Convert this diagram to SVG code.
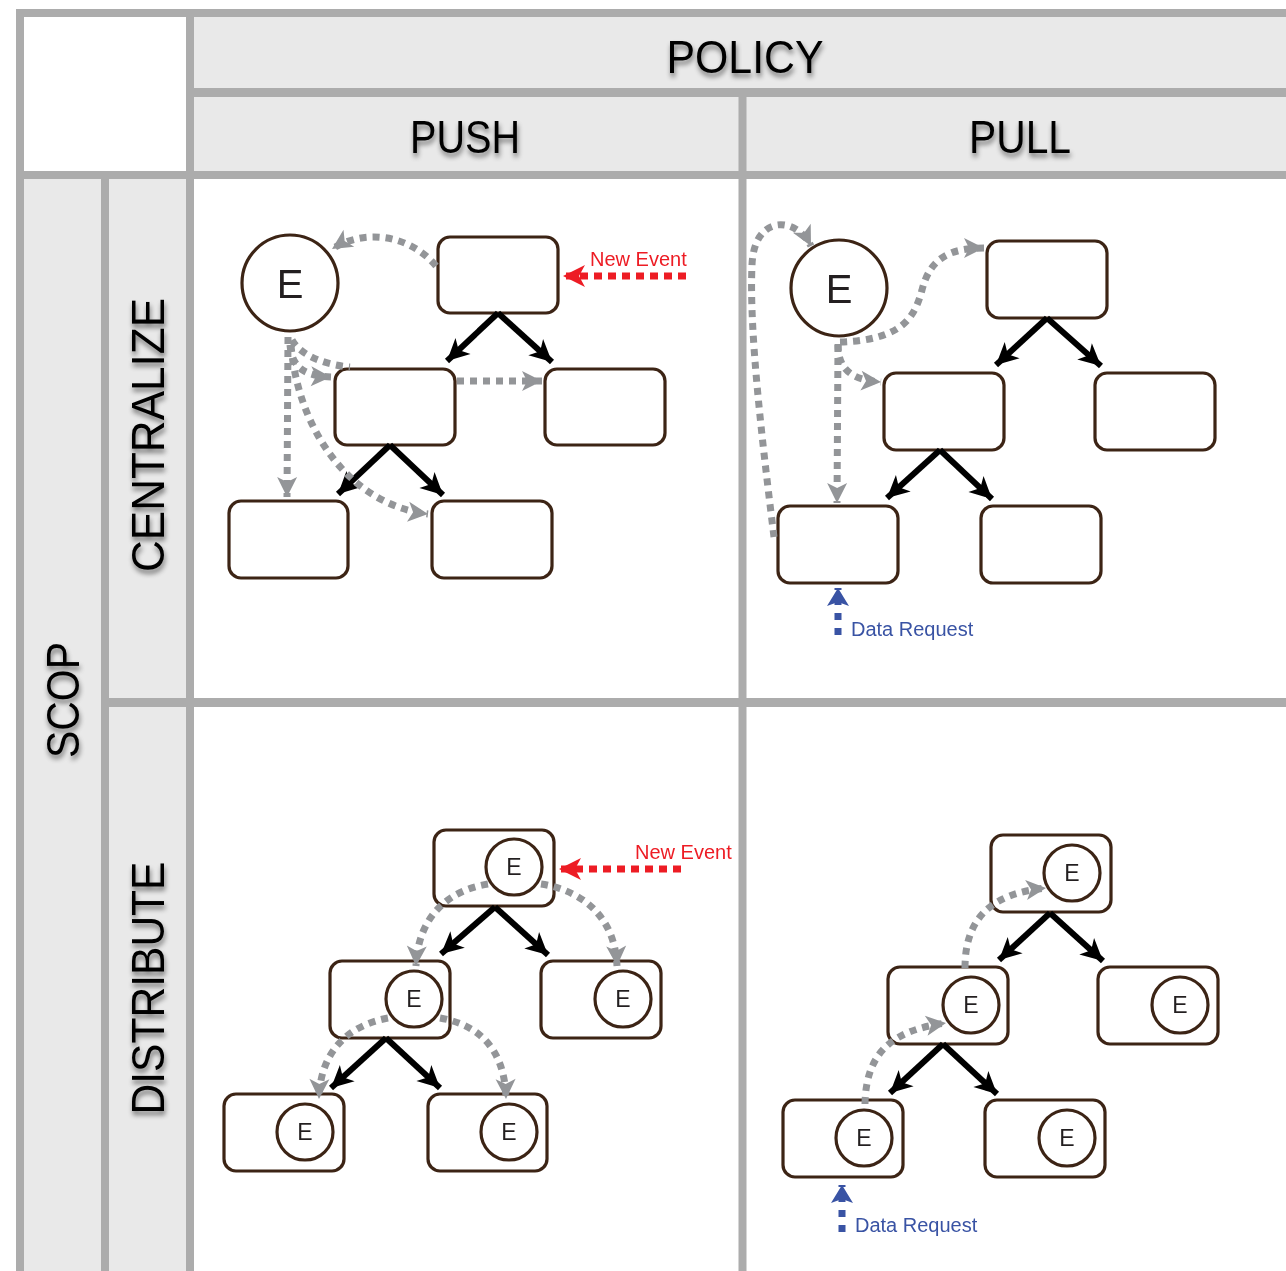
<svg xmlns="http://www.w3.org/2000/svg" width="1286" height="1271" viewBox="0 0 1286 1271">
<style>
.cell{fill:#e9e9e9}
.grid{stroke:#acacac;stroke-width:8;fill:none}
.hd{font-family:"Liberation Sans",Arial,sans-serif;font-size:46px;fill:#000}
.nd{fill:#fff;stroke:#3c2415;stroke-width:3.2}
.ci{fill:none;stroke:#3c2415;stroke-width:3.2}
.eb{font-family:"Liberation Sans",Arial,sans-serif;font-size:40px;fill:#231f20;text-anchor:middle}
.es{font-family:"Liberation Sans",Arial,sans-serif;font-size:23px;fill:#231f20;text-anchor:middle}
.tree{stroke:#000;stroke-width:6;fill:none;marker-end:url(#ab)}
.gd{stroke:#939598;stroke-width:7;stroke-dasharray:7 6;fill:none;marker-end:url(#ag)}
.rd{stroke:#ed1c24;stroke-width:7;stroke-dasharray:8 6;fill:none;marker-end:url(#ar)}
.bd{stroke:#3953a4;stroke-width:7;stroke-dasharray:7 8;fill:none;marker-end:url(#abl)}
.rt{font-family:"Liberation Sans",Arial,sans-serif;font-size:20px;fill:#ed1c24}
.bt{font-family:"Liberation Sans",Arial,sans-serif;font-size:20px;fill:#3953a4}
</style>
<defs>
<filter id="sh" x="-20%" y="-30%" width="140%" height="170%">
<feGaussianBlur in="SourceAlpha" stdDeviation="2.5"/>
<feOffset dx="1" dy="4" result="b"/>
<feFlood flood-color="#000" flood-opacity="0.5"/>
<feComposite in2="b" operator="in"/>
<feMerge><feMergeNode/><feMergeNode in="SourceGraphic"/></feMerge>
</filter>
<marker id="ab" markerUnits="userSpaceOnUse" markerWidth="24" markerHeight="22" refX="22" refY="11" orient="auto" overflow="visible"><path d="M0,0 L22,11 L0,22 L6,11 z" fill="#000"/></marker>
<marker id="ag" markerUnits="userSpaceOnUse" markerWidth="22" markerHeight="20" refX="20" refY="10" orient="auto" overflow="visible"><path d="M0,0 L20,10 L0,20 L5,10 z" fill="#939598"/></marker>
<marker id="ar" markerUnits="userSpaceOnUse" markerWidth="24" markerHeight="22" refX="22" refY="11" orient="auto" overflow="visible"><path d="M0,0 L22,11 L0,22 L6,11 z" fill="#ed1c24"/></marker>
<marker id="abl" markerUnits="userSpaceOnUse" markerWidth="20" markerHeight="22" refX="18" refY="11" orient="auto" overflow="visible"><path d="M0,0 L18,11 L0,22 L4,11 z" fill="#3953a4"/></marker>
</defs>
<rect x="0" y="0" width="1286" height="1271" fill="#fff"/>
<g id="grid">
<rect class="cell" x="190" y="13" width="1096" height="80"/>
<rect class="cell" x="190" y="92" width="1096" height="83"/>
<rect class="cell" x="20" y="175" width="85" height="1096"/>
<rect class="cell" x="105" y="175" width="85" height="1096"/>
<path class="grid" d="M16,13 H1286"/>
<path class="grid" d="M20,9 V1271"/>
<path class="grid" d="M190,9 V1271"/>
<path class="grid" d="M190,92.5 H1286" style="stroke-width:9"/>
<path class="grid" d="M16,175 H1286"/>
<path class="grid" d="M105,175 V1271"/>
<path class="grid" d="M742.5,92 V1271"/>
<path class="grid" d="M105,702.5 H1286" style="stroke-width:9"/>
</g>
<g id="headers" filter="url(#sh)">
<text class="hd" x="745" y="73" text-anchor="middle" textLength="157" lengthAdjust="spacingAndGlyphs">POLICY</text>
<text class="hd" x="465" y="153" text-anchor="middle" textLength="110" lengthAdjust="spacingAndGlyphs">PUSH</text>
<text class="hd" x="1020" y="153" text-anchor="middle" textLength="102" lengthAdjust="spacingAndGlyphs">PULL</text>
<text class="hd" transform="translate(79,700) rotate(-90)" text-anchor="middle" textLength="116" lengthAdjust="spacingAndGlyphs">SCOP</text>
<text class="hd" transform="translate(164,435) rotate(-90)" text-anchor="middle" textLength="274" lengthAdjust="spacingAndGlyphs">CENTRALIZE</text>
<text class="hd" transform="translate(164,988) rotate(-90)" text-anchor="middle" textLength="253" lengthAdjust="spacingAndGlyphs">DISTRIBUTE</text>
</g>
<!-- top-left: centralize push -->
<g id="tl-e"><circle class="nd" cx="290" cy="283" r="48"/><text class="eb" x="290" y="297.5">E</text></g>
<g id="tl-n1"><rect class="nd" x="438" y="237" width="120" height="76" rx="12"/></g>
<g id="tl-n2"><rect class="nd" x="335" y="369" width="120" height="76" rx="12"/></g>
<g id="tl-n3"><rect class="nd" x="545" y="369" width="120" height="76" rx="12"/></g>
<g id="tl-n4"><rect class="nd" x="229" y="501" width="119" height="77" rx="12"/></g>
<g id="tl-n5"><rect class="nd" x="432" y="501" width="120" height="77" rx="12"/></g>
<!-- top-right: centralize pull -->
<g id="tr-e"><circle class="nd" cx="839" cy="288" r="48"/><text class="eb" x="839" y="302.5">E</text></g>
<g id="tr-n1"><rect class="nd" x="987" y="241" width="120" height="77" rx="12"/></g>
<g id="tr-n2"><rect class="nd" x="884" y="373" width="120" height="77" rx="12"/></g>
<g id="tr-n3"><rect class="nd" x="1095" y="373" width="120" height="77" rx="12"/></g>
<g id="tr-n4"><rect class="nd" x="778" y="506" width="120" height="77" rx="12"/></g>
<g id="tr-n5"><rect class="nd" x="981" y="506" width="120" height="77" rx="12"/></g>
<!-- bottom-left: distribute push -->
<g id="bl-n1"><rect class="nd" x="434" y="830" width="120" height="76" rx="12"/><circle class="ci" cx="514" cy="867" r="28"/><text class="es" x="514" y="875">E</text></g>
<g id="bl-n2"><rect class="nd" x="330" y="961" width="120" height="77" rx="12"/><circle class="ci" cx="414" cy="999" r="28"/><text class="es" x="414" y="1007">E</text></g>
<g id="bl-n3"><rect class="nd" x="541" y="961" width="120" height="77" rx="12"/><circle class="ci" cx="623" cy="999" r="28"/><text class="es" x="623" y="1007">E</text></g>
<g id="bl-n4"><rect class="nd" x="224" y="1094" width="120" height="77" rx="12"/><circle class="ci" cx="305" cy="1132" r="28"/><text class="es" x="305" y="1140">E</text></g>
<g id="bl-n5"><rect class="nd" x="428" y="1094" width="119" height="77" rx="12"/><circle class="ci" cx="509" cy="1132" r="28"/><text class="es" x="509" y="1140">E</text></g>
<!-- bottom-right: distribute pull -->
<g id="br-n1"><rect class="nd" x="991" y="835" width="120" height="77" rx="12"/><circle class="ci" cx="1072" cy="873" r="28"/><text class="es" x="1072" y="881">E</text></g>
<g id="br-n2"><rect class="nd" x="888" y="967" width="120" height="77" rx="12"/><circle class="ci" cx="971" cy="1005" r="28"/><text class="es" x="971" y="1013">E</text></g>
<g id="br-n3"><rect class="nd" x="1098" y="967" width="120" height="77" rx="12"/><circle class="ci" cx="1180" cy="1005" r="28"/><text class="es" x="1180" y="1013">E</text></g>
<g id="br-n4"><rect class="nd" x="783" y="1100" width="120" height="77" rx="12"/><circle class="ci" cx="864" cy="1138" r="28"/><text class="es" x="864" y="1146">E</text></g>
<g id="br-n5"><rect class="nd" x="985" y="1100" width="120" height="77" rx="12"/><circle class="ci" cx="1067" cy="1138" r="28"/><text class="es" x="1067" y="1146">E</text></g>
<g id="connectors">
<!-- tree edges -->
<path class="tree" d="M498,313 L447,361"/>
<path class="tree" d="M498,313 L552,362"/>
<path class="tree" d="M390,445 L338,494"/>
<path class="tree" d="M390,445 L443,495"/>
<path class="tree" d="M1047,318 L996,365"/>
<path class="tree" d="M1047,318 L1101,366"/>
<path class="tree" d="M940,450 L887,498"/>
<path class="tree" d="M940,450 L992,499"/>
<path class="tree" d="M495,907 L441,954"/>
<path class="tree" d="M495,907 L548,955"/>
<path class="tree" d="M386,1038 L331,1088"/>
<path class="tree" d="M386,1038 L440,1088"/>
<path class="tree" d="M1050,913 L999,960"/>
<path class="tree" d="M1050,913 L1103,961"/>
<path class="tree" d="M943,1044 L890,1093"/>
<path class="tree" d="M943,1044 L997,1094"/>
<!-- top-left gray -->
<path class="gd" d="M436,266 C410,235 365,228 332,249"/>
<path class="gd" d="M288,337 L287,497"/>
<path class="gd" d="M290,345 C292,368 305,376 331,377"/>
<path class="gd" d="M292,340 C300,355 325,365 350,367 M457,381 L542,381"/>
<path class="gd" d="M291,345 C298,430 350,505 428,514"/>
<path class="rd" d="M686,276 L563,276"/>
<!-- top-right gray -->
<path class="gd" d="M840,342 C905,340 915,315 922,290 C930,258 950,248 984,248"/>
<path class="gd" d="M838,344 C838,370 852,380 881,382"/>
<path class="gd" d="M838,345 L837,503"/>
<path class="gd" d="M774,537 C762,440 749,330 752,265 C754,215 795,215 811,246"/>
<path class="bd" d="M838,635 L838,588"/>
<!-- bottom-left gray -->
<path class="gd" d="M488,884 C450,890 418,915 416,966"/>
<path class="gd" d="M541,884 C580,890 615,915 617,966"/>
<path class="gd" d="M388,1018 C350,1025 320,1050 319,1099"/>
<path class="gd" d="M440,1018 C480,1025 505,1050 506,1099"/>
<path class="rd" d="M681,869 L559,869"/>
<!-- bottom-right gray -->
<path class="gd" d="M965,968 C965,915 995,893 1046,888"/>
<path class="gd" d="M865,1104 C866,1050 895,1030 946,1023"/>
<path class="bd" d="M842,1232 L842,1185"/>
</g>
<g id="labels">
<text class="rt" x="590" y="266">New Event</text>
<text class="rt" x="635" y="859">New Event</text>
<text class="bt" x="851" y="636">Data Request</text>
<text class="bt" x="855" y="1232">Data Request</text>
</g>
</svg>
